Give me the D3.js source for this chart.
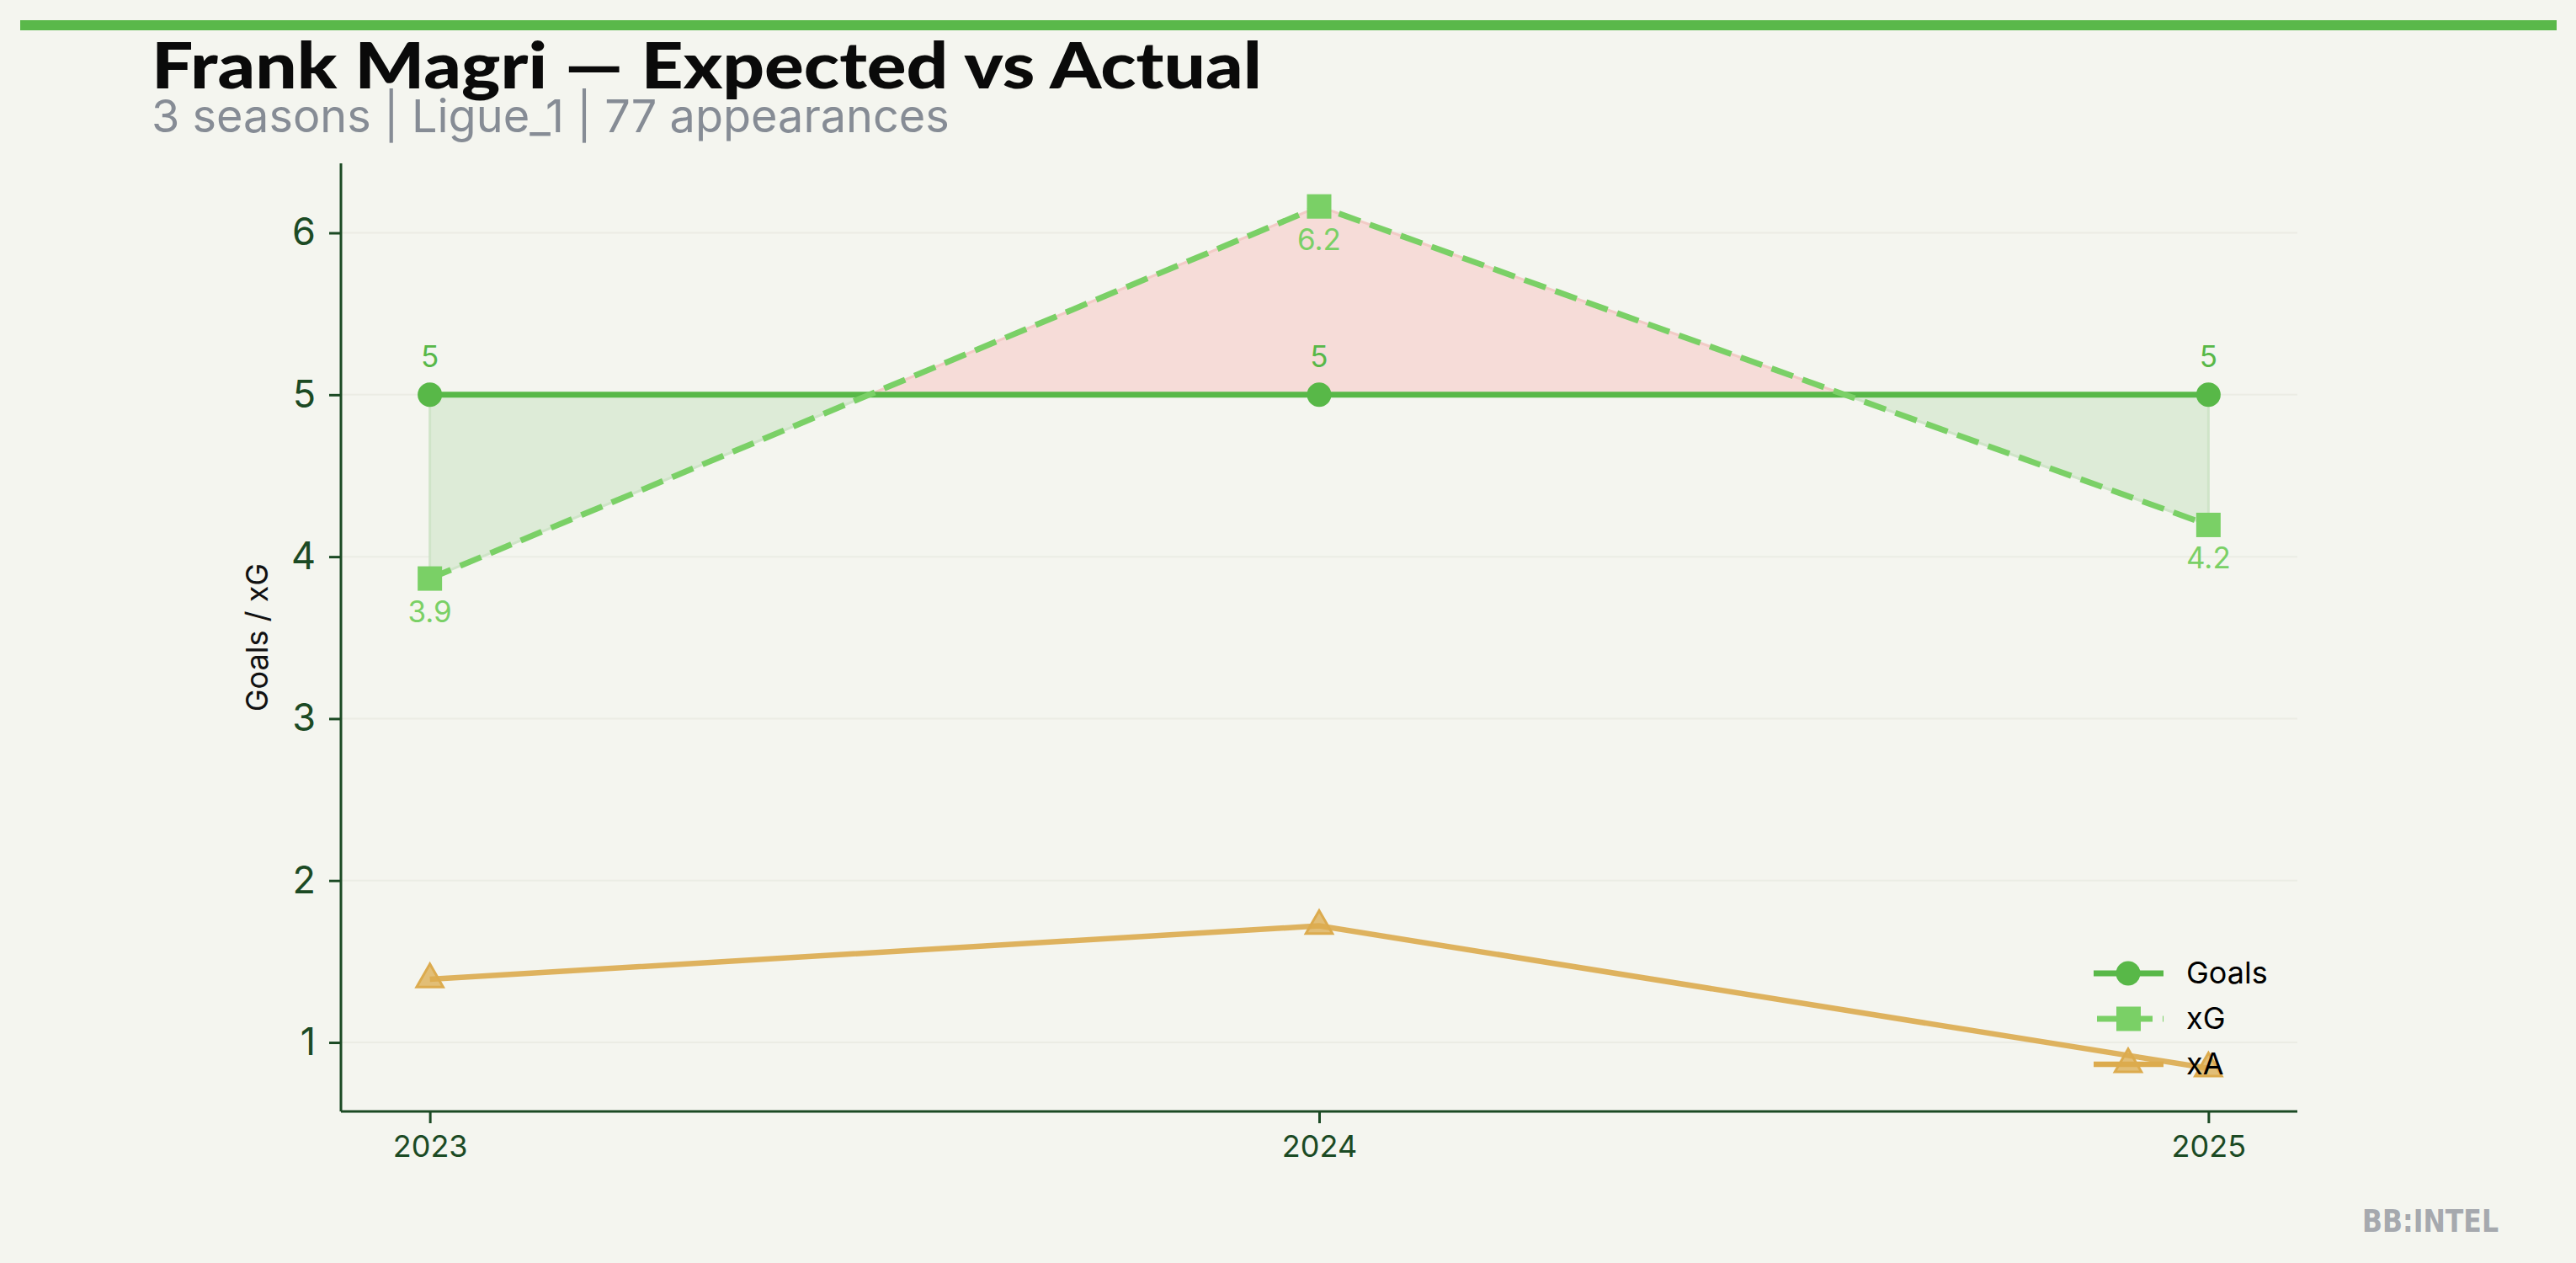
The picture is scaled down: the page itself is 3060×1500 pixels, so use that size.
<!DOCTYPE html>
<html>
<head>
<meta charset="utf-8">
<script src="https://cdn.jsdelivr.net/npm/d3@7"></script>
<style>
  html, body { margin: 0; padding: 0; background: #f4f5ef; }
  svg { display: block; }
</style>
</head>
<body>
<svg id="chart" width="3060" height="1500"></svg>
<script>
// ---- data ----
const seasons = [2023, 2024, 2025];
const goals = [5, 5, 5];
const xG = [3.865, 6.163, 4.196];
const xA = [1.39, 1.72, 0.84];
const goalLabels = ["5", "5", "5"];
const xGLabels = ["3.9", "6.2", "4.2"];
const yTicks = [1, 2, 3, 4, 5, 6];
const seriesNames = ["Goals", "xG", "xA"];
const titleText = "Frank Magri \u2014 Expected vs Actual";
const subtitleText = "3 seasons | Ligue_1 | 77 appearances";
const yLabel = "Goals / xG";
const brand = "BB:INTEL";

// ---- style ----
const C = {
  bg: "#f4f5ef", bar: "#5ab84a", goals: "#58b848", xg: "#7ad066", xa: "#dcab4e",
  axis: "#1b4a24", grid: "#ebece4", fillGood: "#ddebd7", fillBad: "#f6dcd8",
  edgeGood: "#cfe4c8", edgeBad: "#f2cbc6", sub: "#868c95", brand: "#a6a9ae"
};
const plot = { left: 405, right: 2729, top: 194, bottom: 1320 };

const svg = d3.select("#chart");
svg.append("rect").attr("width", 3060).attr("height", 1500).attr("fill", C.bg);

// top bar
svg.append("rect").attr("x", 24).attr("y", 24).attr("width", 3013).attr("height", 12).attr("fill", C.bar);

// title & subtitle
svg.append("text").attr("x", 180).attr("y", 105)
  .attr("font-family", "Lato").attr("font-weight", 900).attr("font-size", 76)
  .attr("textLength", 1319).attr("lengthAdjust", "spacingAndGlyphs")
  .attr("fill", "#0a0a0a").text(titleText);
svg.append("text").attr("x", 180).attr("y", 157)
  .attr("font-family", "Inter").attr("font-size", 54)
  .attr("fill", C.sub).text(subtitleText);

// scales
const xs = d3.scaleLinear().domain([seasons[0] - 0.1, seasons[seasons.length - 1] + 0.1])
  .range([plot.left, plot.right]);
const allY = goals.concat(xG, xA);
const [ymin, ymax] = d3.extent(allY);
const pad = (ymax - ymin) * 0.05;
const ys = d3.scaleLinear().domain([ymin - pad, ymax + pad]).range([plot.bottom, plot.top]);

const g = svg.append("g");

// grid
g.append("g").selectAll("line").data(yTicks).join("line")
  .attr("x1", plot.left).attr("x2", plot.right)
  .attr("y1", d => ys(d)).attr("y2", d => ys(d))
  .attr("stroke", C.grid).attr("stroke-width", 2);

// fill between goals and xG, split at crossings
function segments() {
  const good = [], bad = [];
  for (let i = 0; i < seasons.length - 1; i++) {
    const d0 = goals[i] - xG[i], d1 = goals[i + 1] - xG[i + 1];
    const pts = [{ x: seasons[i], g: goals[i], e: xG[i], d: d0 }];
    if (d0 * d1 < 0) {
      const t = d0 / (d0 - d1);
      const xc = seasons[i] + t * (seasons[i + 1] - seasons[i]);
      const gc = goals[i] + t * (goals[i + 1] - goals[i]);
      pts.push({ x: xc, g: gc, e: gc, d: 0 });
    }
    pts.push({ x: seasons[i + 1], g: goals[i + 1], e: xG[i + 1], d: d1 });
    for (let k = 0; k < pts.length - 1; k++) {
      const a = pts[k], b = pts[k + 1];
      const sgn = (a.d + b.d);
      (sgn >= 0 ? good : bad).push([a, b]);
    }
  }
  return { good, bad };
}
const segs = segments();
function polyPath(pairs) {
  const polys = [];
  let cur = null;
  pairs.forEach(([a, b]) => {
    if (cur && cur[cur.length - 1].x === a.x) cur.push(b);
    else { cur = [a, b]; polys.push(cur); }
  });
  return polys.map(p => {
    const top = p.map(q => [xs(q.x), ys(q.g)]);
    const bot = p.slice().reverse().map(q => [xs(q.x), ys(q.e)]);
    return "M" + top.concat(bot).map(c => c.join(",")).join("L") + "Z";
  });
}
polyPath(segs.good).forEach(d => g.append("path").attr("d", d)
  .attr("fill", C.fillGood).attr("stroke", C.edgeGood).attr("stroke-width", 3));
polyPath(segs.bad).forEach(d => g.append("path").attr("d", d)
  .attr("fill", C.fillBad).attr("stroke", C.edgeBad).attr("stroke-width", 3));

// lines
const line = d3.line().x(d => xs(d[0])).y(d => ys(d[1]));
g.append("path").attr("d", line(seasons.map((s, i) => [s, xA[i]])))
  .attr("fill", "none").attr("stroke", C.xa).attr("stroke-width", 6.5).attr("opacity", 0.9);
g.append("path").attr("d", line(seasons.map((s, i) => [s, goals[i]])))
  .attr("fill", "none").attr("stroke", C.goals).attr("stroke-width", 7);
g.append("path").attr("d", line(seasons.map((s, i) => [s, xG[i]])))
  .attr("fill", "none").attr("stroke", C.xg).attr("stroke-width", 7)
  .attr("stroke-dasharray", "27,12");

// markers
const tri = d3.symbol().type(d3.symbolTriangle).size(430);
g.append("g").selectAll("path").data(seasons).join("path")
  .attr("transform", (d, i) => `translate(${xs(d)},${ys(xA[i])})`)
  .attr("d", tri()).attr("fill", C.xa).attr("fill-opacity", 0.75)
  .attr("stroke", C.xa).attr("stroke-width", 3);
g.append("g").selectAll("circle").data(seasons).join("circle")
  .attr("cx", d => xs(d)).attr("cy", (d, i) => ys(goals[i])).attr("r", 14.5)
  .attr("fill", C.goals);
g.append("g").selectAll("rect").data(seasons).join("rect")
  .attr("x", d => xs(d) - 14.5).attr("y", (d, i) => ys(xG[i]) - 14.5)
  .attr("width", 29).attr("height", 29).attr("fill", C.xg);

// value labels
g.append("g").selectAll("text").data(seasons).join("text")
  .attr("x", d => xs(d)).attr("y", (d, i) => ys(goals[i]) - 33)
  .attr("text-anchor", "middle").attr("font-family", "Inter").attr("font-size", 35)
  .attr("fill", C.goals).text((d, i) => goalLabels[i]);
g.append("g").selectAll("text").data(seasons).join("text")
  .attr("x", d => xs(d)).attr("y", (d, i) => ys(xG[i]) + 52)
  .attr("text-anchor", "middle").attr("font-family", "Inter").attr("font-size", 35)
  .attr("fill", C.xg).text((d, i) => xGLabels[i]);

// axes
const yAxis = g.append("g").attr("transform", `translate(${plot.left},0)`)
  .call(d3.axisLeft(ys).tickValues(yTicks).tickFormat(d3.format("d")).tickSize(14).tickPadding(16));
const xAxis = g.append("g").attr("transform", `translate(0,${plot.bottom})`)
  .call(d3.axisBottom(xs).tickValues(seasons).tickFormat(d3.format("d")).tickSize(14).tickPadding(14));
[yAxis, xAxis].forEach(a => {
  a.select(".domain").attr("stroke", C.axis).attr("stroke-width", 3);
  a.selectAll(".tick line").attr("stroke", C.axis).attr("stroke-width", 3);
  a.selectAll(".tick text").attr("fill", C.axis).attr("font-family", "Inter");
});
yAxis.select(".domain").attr("d", `M0,${plot.bottom}V${plot.top}`);
xAxis.select(".domain").attr("d", `M${plot.left},0H${plot.right}`);
yAxis.selectAll(".tick text").attr("font-size", 45);
xAxis.selectAll(".tick text").attr("font-size", 36);

// y label
svg.append("text")
  .attr("transform", `translate(318,${(plot.top + plot.bottom) / 2}) rotate(-90)`)
  .attr("text-anchor", "middle").attr("font-family", "Inter").attr("font-size", 36)
  .attr("fill", "#111").text(yLabel);

// legend
const leg = svg.append("g");
const legY = [1156, 1210, 1264];
const legColors = [C.goals, C.xg, C.xa];
seriesNames.forEach((name, i) => {
  const y = legY[i];
  const l = leg.append("line").attr("x1", 2487).attr("x2", 2570).attr("y1", y).attr("y2", y)
    .attr("stroke", legColors[i]).attr("stroke-width", i === 2 ? 6.5 : 7);
  if (i === 1) l.attr("stroke-dasharray", "27,12").attr("x1", 2491);
  if (i === 0) leg.append("circle").attr("cx", 2528).attr("cy", y).attr("r", 14.5).attr("fill", C.goals);
  if (i === 1) leg.append("rect").attr("x", 2514).attr("y", y - 14.5).attr("width", 29).attr("height", 29).attr("fill", C.xg);
  if (i === 2) leg.append("path").attr("transform", `translate(2528,${y})`).attr("d", tri())
    .attr("fill", C.xa).attr("fill-opacity", 0.75).attr("stroke", C.xa).attr("stroke-width", 3);
  leg.append("text").attr("x", 2597).attr("y", y + 12).attr("font-family", "Inter").attr("font-size", 36)
    .attr("fill", "#000").text(name);
});

// brand
svg.append("text").attr("x", 2806).attr("y", 1463)
  .attr("font-family", "DejaVu Sans Condensed, DejaVu Sans").attr("font-weight", "bold").attr("font-size", 37)
  .attr("textLength", 162).attr("lengthAdjust", "spacingAndGlyphs")
  .attr("fill", C.brand).text(brand);
</script>
</body>
</html>
